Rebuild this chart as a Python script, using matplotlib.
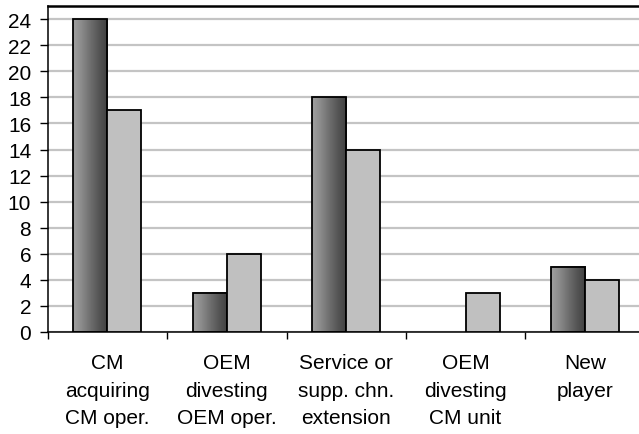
import numpy as np
import matplotlib
matplotlib.use("Agg")
import matplotlib.pyplot as plt
from matplotlib.colors import LinearSegmentedColormap

categories = ["CM\nacquiring\nCM oper.", "OEM\ndivesting\nOEM oper.",
              "Service or\nsupp. chn.\nextension", "OEM\ndivesting\nCM unit",
              "New\nplayer"]
series_dark = [24, 3, 18, 0, 5]
series_light = [17, 6, 14, 3, 4]
y_ticks = list(range(0, 25, 2))

plt.rcParams["font.family"] = ["Liberation Sans", "DejaVu Sans"]

fig = plt.figure(figsize=(6.39, 4.35), dpi=100)
ax = fig.add_axes([0.0748, 0.2345, 0.934, 0.749])

x = np.arange(len(categories))
w = 0.285

# horizontal metallic gradient for the dark series
grad_cmap = LinearSegmentedColormap.from_list(
    "metal", ["#a0a0a0", "#8a8a8a", "#6e6e6e", "#555555", "#404040"])
grad = np.linspace(0, 1, 64).reshape(1, -1)

dark = ax.bar(x - w / 2, series_dark, w, color="none", edgecolor="black",
              linewidth=1.3, zorder=3)
for bar in dark:
    if bar.get_height() <= 0:
        bar.set_linewidth(0)
        continue
    x0, y0 = bar.get_x(), bar.get_y()
    ax.imshow(grad, cmap=grad_cmap, aspect="auto", interpolation="bicubic",
              extent=(x0, x0 + bar.get_width(), y0, y0 + bar.get_height()),
              zorder=2)
ax.bar(x + w / 2, series_light, w, color="#c0c0c0", edgecolor="black",
       linewidth=1.3, zorder=3)

ax.set_xlim(-0.5, len(categories) - 0.5)
ax.set_ylim(0, 25)

ax.set_yticks(y_ticks)
ax.yaxis.grid(True, color="#c4c4c4", linewidth=1.6, zorder=0)
ax.set_axisbelow(True)

ax.set_xticks(x)
ax.set_xticklabels(categories, linespacing=1.58)
ax.set_xticks(np.arange(len(categories)) - 0.5, minor=True)
ax.tick_params(axis="x", which="major", length=0, pad=15, labelsize=15)
ax.tick_params(axis="x", which="minor", length=5, width=1, direction="out")
ax.tick_params(axis="y", length=6, width=1, direction="out", pad=6,
               labelsize=15)

for side in ("left", "bottom"):
    ax.spines[side].set_linewidth(1.1)
ax.spines["top"].set_linewidth(1.8)
ax.spines["right"].set_visible(False)

fig.savefig("out.png", dpi=100)
